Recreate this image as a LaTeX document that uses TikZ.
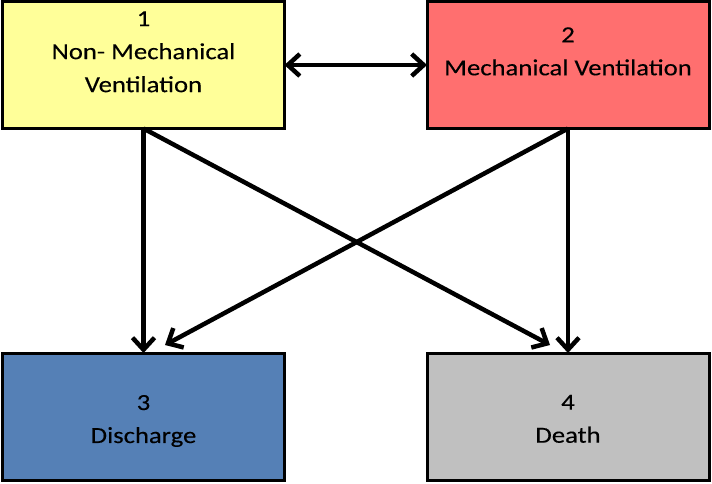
\documentclass[tikz,border=0pt]{standalone}
\usepackage{fontspec}
\setmainfont{Carlito}[FakeStretch=1.16, FakeBold=0.2]
\usepackage{tikz}
\usetikzlibrary{positioning, arrows.meta}

\definecolor{nmvyellow}{HTML}{FFFF99}
\definecolor{mvred}{HTML}{FF6F6F}
\definecolor{disblue}{HTML}{5580B6}
\definecolor{dthgray}{HTML}{C0C0C0}

\tikzset{
	statebox/.style={draw, line width=3pt, minimum width=282pt, minimum height=127pt, inner sep=0pt, outer sep=0pt},
	statetxt/.style={align=center, inner sep=0pt, font=\fontsize{23}{33}\selectfont},
	barb/.tip={Straight Barb[length=12pt, width=22pt, line width=4.5pt]},
	trans/.style={line width=4.5pt, -barb},
	both/.style={line width=4.5pt, barb-barb}
}

\begin{document}
\begin{tikzpicture}[x=1pt, y=-1pt]
			\useasboundingbox (0,0) rectangle (712,483);
			\node[statebox, fill=nmvyellow] (nmv) at (143.5, 65)  {};
			\node[statebox, fill=mvred]     (mv)  at (568, 65)    {};
			\node[statebox, fill=disblue]   (dis) at (143.5, 416.5) {};
			\node[statebox, fill=dthgray]   (dth) at (568, 416.5) {};
			
			\node[statetxt] (nmvtxt) at (143.5, 51.8) {1\\Non- Mechanical\\Ventilation};
			\node[statetxt] (mvtxt)  at (568, 51.4)   {2\\Mechanical Ventilation};
			\node[statetxt] (distxt) at (143.5, 421)  {3\\Discharge};
			\node[statetxt] (dthtxt) at (568, 418.9)  {4\\Death};
			
			\draw[both] (nmv) -- (mv);
			\draw[trans] (nmv.south) -- (dis.north);
			\draw[trans] (nmv.south) -- ([xshift=-18pt, yshift=8pt]dth.north);
			\draw[trans] (mv.south) -- (dth.north);
			\draw[trans] (mv.south) -- ([xshift=21.5pt, yshift=8pt]dis.north);
		\end{tikzpicture}
\end{document}
